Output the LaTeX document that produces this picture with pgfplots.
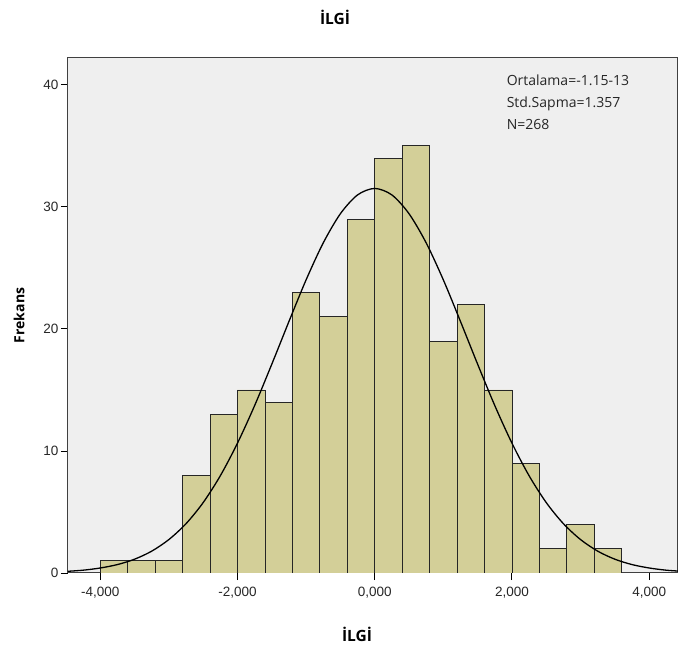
\documentclass[border=0pt]{standalone}
\usepackage{fontspec}
\setmainfont{Open Sans}
\newfontfamily\arialfont{Liberation Sans}
\usepackage{pgfplots}
\pgfplotsset{compat=1.18}
\definecolor{barfill}{HTML}{D3CF98}
\definecolor{bgc}{HTML}{EFEFEF}
\definecolor{axc}{HTML}{404040}
\begin{document}
\begin{tikzpicture}
\useasboundingbox (-68pt,-80pt) rectangle (610pt,573pt);
\begin{axis}[
  at={(0pt,0pt)}, anchor=south west,
  scale only axis, width=610pt, height=515pt,
  xmin=-4.47, xmax=4.42, ymin=0, ymax=42.2,
  axis background/.style={fill=bgc},
  axis line style={draw=axc, line width=1pt},
  xtick={-4,-2,0,2,4},
  xticklabels={{-4,000},{-2,000},{0,000},{2,000},{4,000}},
  ytick={0,10,20,30,40},
  /pgf/number format/assume math mode=true,
  tick align=outside, tick pos=left,
  major tick length=7pt,
  tick style={draw=black, line width=0.9pt},
  ticklabel style={font=\arialfont\fontsize{13.5}{15}\selectfont, text=black!85},
  yticklabel style={xshift=1pt},
  xticklabel style={yshift=-4pt},
  xlabel={\bfseries İLGİ}, xlabel style={font=\fontsize{15.5}{17}\selectfont, yshift=-22pt, xshift=-16pt},
  ylabel={\bfseries Frekans}, ylabel style={font=\fontsize{14}{16}\selectfont, yshift=12pt},
  title={\bfseries İLGİ}, title style={font=\fontsize{15.5}{17}\selectfont, xshift=-38pt, yshift=24pt},
  clip=true,
]
\addplot[ybar interval, fill=barfill, draw=black!85, line width=0.8pt] coordinates {
(-4.0,1) (-3.6,1) (-3.2,1) (-2.8,8) (-2.4,13) (-2.0,15) (-1.6,14) (-1.2,23) (-0.8,21) (-0.4,29)
(0.0,34) (0.4,35) (0.8,19) (1.2,22) (1.6,15) (2.0,9) (2.4,2) (2.8,4) (3.2,2) (3.6,2)
};
\addplot[black, line width=1.3pt, smooth, no markers] coordinates {
(-4.5,0.13) (-4.25,0.23) (-4.0,0.41) (-3.75,0.69) (-3.5,1.13) (-3.25,1.79) (-3.0,2.74) (-2.75,4.04)
(-2.5,5.77) (-2.25,7.97) (-2.0,10.64) (-1.75,13.72) (-1.5,17.11) (-1.25,20.61) (-1.0,24.02)
(-0.75,27.05) (-0.5,29.44) (-0.25,30.98) (0,31.51) (0.25,30.98) (0.5,29.44) (0.75,27.05)
(1.0,24.02) (1.25,20.61) (1.5,17.11) (1.75,13.72) (2.0,10.64) (2.25,7.97) (2.5,5.77) (2.75,4.04)
(3.0,2.74) (3.25,1.79) (3.5,1.13) (3.75,0.69) (4.0,0.41) (4.25,0.23) (4.5,0.13)
};
\node[anchor=north west, align=left, font=\fontsize{14}{22}\selectfont, text=black!85, inner sep=0pt]
  at (rel axis cs:0.719,0.968) {Ortalama=-1.15-13\\Std.Sapma=1.357\\N=268};
\end{axis}
\end{tikzpicture}
\end{document}
